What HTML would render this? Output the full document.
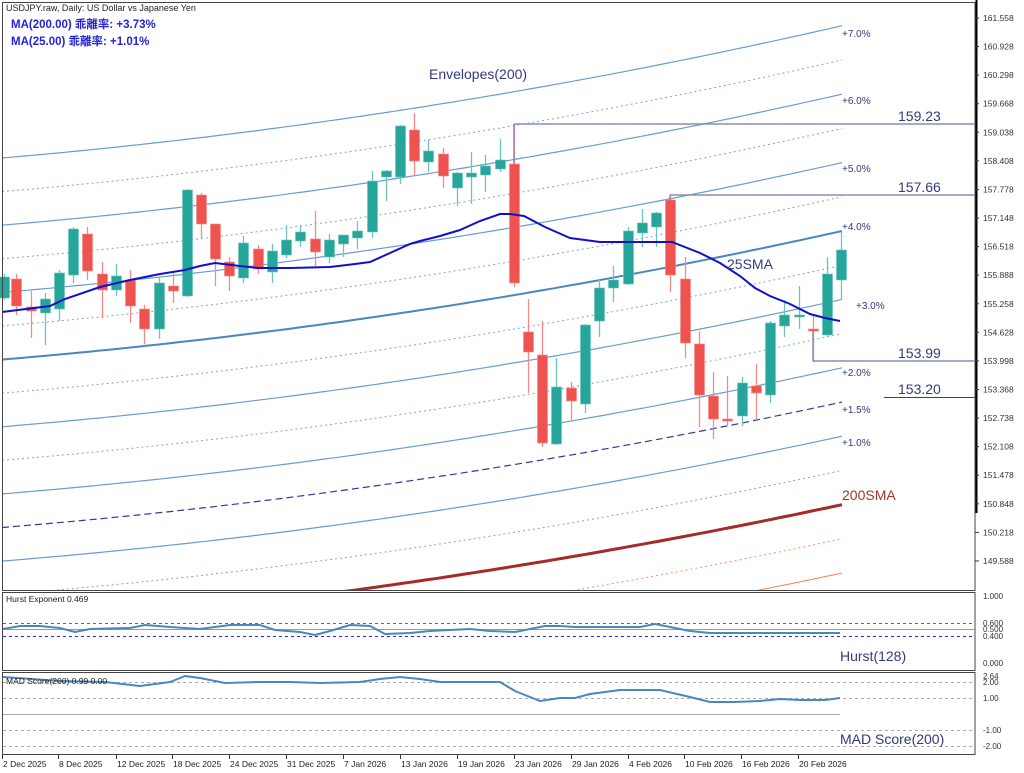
<!DOCTYPE html>
<html><head><meta charset="utf-8"><style>
html,body{margin:0;padding:0;background:#fff;}
svg{display:block;font-family:"Liberation Sans","Noto Sans CJK JP",sans-serif;}
</style></head><body>
<svg id="s" width="1024" height="773" viewBox="0 0 1024 773" xmlns="http://www.w3.org/2000/svg">
<defs><clipPath id="cm"><rect x="2" y="2" width="973" height="588"/></clipPath></defs>
<rect width="1024" height="773" fill="#fff"/>
<g id="bands" clip-path="url(#cm)"></g>
<g id="cand"></g>
<g id="over"></g>
<!-- borders -->
<rect x="2.5" y="2.5" width="972.5" height="588" fill="none" stroke="#444" stroke-width="1"/>
<rect x="2.5" y="592.5" width="972.5" height="78" fill="none" stroke="#444" stroke-width="1"/>
<rect x="2.5" y="672.5" width="972.5" height="82" fill="none" stroke="#444" stroke-width="1"/>
<line x1="976.5" y1="0" x2="976.5" y2="513" stroke="#000" stroke-width="2"/>
<g id="axis" font-size="8.5" fill="#333"></g>
<text x="6" y="11" font-size="9" fill="#222">USDJPY.raw, Daily:  US Dollar vs Japanese Yen</text>
<text x="11" y="28" font-size="11.5" font-weight="bold" fill="#2323d8">MA(200.00) 乖離率: +3.73%</text>
<text x="11" y="45" font-size="11.5" font-weight="bold" fill="#2323d8">MA(25.00) 乖離率: +1.01%</text>
<text x="429" y="79" font-size="14" fill="#33397f">Envelopes(200)</text>
<text x="727" y="269" font-size="14" fill="#33397f">25SMA</text>
<text x="842" y="500" font-size="14" fill="#a0352c">200SMA</text>
<g font-size="10" fill="#33397f">
<text x="842" y="37">+7.0%</text><text x="842" y="104">+6.0%</text><text x="842" y="172">+5.0%</text>
<text x="842" y="230">+4.0%</text><text x="856" y="309">+3.0%</text><text x="842" y="376">+2.0%</text>
<text x="842" y="413">+1.5%</text><text x="842" y="446">+1.0%</text>
</g>
<g stroke="#8a8db0" stroke-width="1.5">
<line x1="514" y1="124" x2="975" y2="124"/><line x1="514" y1="124" x2="514" y2="164"/>
<line x1="670" y1="195" x2="975" y2="195"/><line x1="670" y1="195" x2="670" y2="200"/>
<line x1="813" y1="361" x2="975" y2="361"/><line x1="813" y1="331" x2="813" y2="361"/>
</g>
<line x1="884" y1="397.5" x2="975" y2="397.5" stroke="#3a3f7a" stroke-width="1"/>
<g font-size="14" fill="#33397f">
<text x="898" y="121">159.23</text><text x="898" y="192">157.66</text>
<text x="898" y="358">153.99</text><text x="898" y="394">153.20</text>
</g>
<!-- Hurst -->
<text x="6" y="602" font-size="8.5" fill="#222">Hurst Exponent 0.469</text>
<line x1="3" y1="623.5" x2="975" y2="623.5" stroke="#e03040" stroke-dasharray="3,3"/>
<line x1="3" y1="629.5" x2="975" y2="629.5" stroke="#999"/>
<line x1="3" y1="636.5" x2="975" y2="636.5" stroke="#2030e0" stroke-dasharray="3,3"/>
<polyline fill="none" stroke="#4a86c0" stroke-width="2" points="3,629 20,626 40,626 60,628 75,632 90,629 130,628 145,625 170,627 200,629 230,625 260,625 275,630 300,632 315,635 330,631 350,625 370,626 385,634 410,633 430,631 470,629 490,631 515,632 530,629 545,626 560,626 575,627 640,627 655,624 670,627 690,631 710,633 760,633 840,633"/>
<text x="840" y="661" font-size="14" fill="#33397f">Hurst(128)</text>
<!-- MAD -->
<g stroke="#aaa" stroke-dasharray="3,3"><line x1="3" y1="682.5" x2="975" y2="682.5"/><line x1="3" y1="698.5" x2="975" y2="698.5"/><line x1="3" y1="730.5" x2="975" y2="730.5"/><line x1="3" y1="746.5" x2="975" y2="746.5"/></g>
<line x1="3" y1="714.5" x2="840" y2="714.5" stroke="#aaa"/>
<polyline fill="none" stroke="#4a86c0" stroke-width="2" points="3,677 60,681 105,682 140,686 170,682 185,676 200,678 225,683 260,682 290,682 320,683 360,682 380,679 400,677 420,679 440,682 500,682 515,691 540,701 560,698 575,698 590,694 620,690 660,690 690,697 710,702 735,702 760,701 780,699 800,700 825,700 840,698"/>
<text x="6" y="684" font-size="8.5" fill="#222">MAD Score(200) 0.99 0.00</text>
<text x="840" y="744" font-size="14" fill="#33397f">MAD Score(200)</text>
<!-- right small axis -->
<g font-size="8" fill="#333">
<text x="983" y="599">1.000</text><text x="983" y="626">0.600</text><text x="983" y="632">0.500</text><text x="983" y="639">0.400</text><text x="983" y="666">0.000</text>
<text x="983" y="679">2.64</text><text x="983" y="685">2.00</text><text x="983" y="701">1.00</text><text x="983" y="733">-1.00</text><text x="983" y="749">-2.00</text>
</g>
<g id="dates" font-size="8.5" fill="#222"></g>
<script>
var NS="http://www.w3.org/2000/svg";
function el(p,t,a){var e=document.createElementNS(NS,t);for(var k in a)e.setAttribute(k,a[k]);p.appendChild(e);return e;}
function Y(p){return 18+(161.558-p)*45.36;}
function P(x){return 148.1+0.001762*x+1.757e-6*x*x;}
var bands=document.getElementById('bands');
var specs=[[-1,'#ff7f50','',1],[-0.5,'#ff8c60','2,3',1],[0.5,'#7aa6d6','2,3',1],[1,'#6a9ccf','',1.2],[1.5,'#3636a0','7,4',1.2],[2,'#6a9ccf','',1.2],[2.5,'#7aa6d6','2,3',1],[3,'#6a9ccf','',1.2],[3.5,'#7aa6d6','2,3',1],[4,'#4a86c0','',2],[4.5,'#7aa6d6','2,3',1],[5,'#6a9ccf','',1.2],[5.5,'#7aa6d6','2,3',1],[6,'#6a9ccf','',1.2],[6.5,'#7aa6d6','2,3',1],[7,'#6a9ccf','',1.2],[0,'#a52a2a','',3]];
specs.forEach(function(s){var pts=[];for(var x=2;x<=842;x+=8){pts.push(x+','+Y(P(x)*(1+s[0]/100)).toFixed(1));}
var a={points:pts.join(' '),fill:'none',stroke:s[1],'stroke-width':s[3]};if(s[2])a['stroke-dasharray']=s[2];el(bands,'polyline',a);});
var c=[[4,'g',277,298,274,300],[16,'r',279,306,274,315],[31,'r',307,311,291,338],[45,'g',299,313,293,345],[59,'g',273,309,270,321],[73,'g',229,275,227,283],[87,'r',234,271,227,280],[102,'r',274,290,262,318],[116,'g',276,290,264,296],[130,'r',280,306,270,323],[144,'r',309,329,305,344],[159,'g',283,329,278,339],[173,'r',286,291,271,303],[187,'g',190,296,189,297],[201,'r',195,224,193,238],[215,'r',224,259,224,286],[229,'r',262,276,257,291],[243,'g',243,278,236,283],[258,'r',249,269,245,274],[272,'g',251,272,244,283],[286,'g',240,255,225,258],[300,'g',232,241,225,247],[315,'r',239,252,211,266],[329,'g',240,257,234,263],[343,'g',235,244,235,257],[357,'g',231,238,221,249],[372,'g',181,232,171,238],[386,'g',171,177,170,201],[400,'g',126,177,125,184],[414,'r',130,161,113,176],[428,'g',151,162,140,172],[443,'r',154,176,148,188],[457,'g',173,188,172,206],[471,'g',173,177,152,204],[485,'g',166,175,155,192],[500,'g',160,169,139,172],[514,'r',164,283,124,287],[528,'r',332,352,299,393],[542,'r',355,443,321,447],[556,'g',387,444,358,445],[571,'r',388,401,382,421],[585,'g',325,404,324,413],[599,'g',288,321,280,337],[613,'g',280,288,266,302],[628,'g',231,284,227,285],[642,'g',223,233,209,247],[656,'g',213,227,212,247],[670,'r',200,275,195,292],[685,'r',279,343,257,358],[699,'r',344,395,331,427],[713,'r',396,419,372,439],[727,'r',419,420,376,425],[742,'g',383,416,377,426],[756,'r',386,393,364,420],[770,'g',323,395,321,403],[784,'g',315,326,300,337],[799,'g',315,317,286,329],[813,'r',329,331,315,362],[827,'g',274,335,257,337],[841,'g',250,280,232,300]];
var cg=document.getElementById('cand');
var sma=[[2,312],[50,306],[65,299],[100,287],[130,280],[160,274],[185,270],[200,266],[215,263],[240,266],[258,268],[290,268],[330,267],[355,264],[370,262],[390,253],[410,244],[420,241],[440,236],[460,230],[480,221],[500,214],[510,214],[524,216],[545,227],[570,238],[600,242],[650,242],[672,242],[700,253],[720,263],[740,276],[755,288],[770,296],[790,304],[810,314],[825,318],[840,321]];
c.forEach(function(d){var col=d[1]=='g'?'#26a69a':'#ef5350';var wc=d[1]=='g'?'#6cc4bb':'#f48a88';
el(cg,'line',{x1:d[0]+.5,x2:d[0]+.5,y1:d[4],y2:d[5],stroke:wc,'stroke-width':1.3});
el(cg,'rect',{x:d[0]-4.5,y:d[2],width:10,height:Math.max(2,d[3]-d[2]),fill:col,stroke:wc,'stroke-width':0.6});});
el(document.getElementById('over'),'polyline',{points:sma.map(function(p){return p.join(',')}).join(' '),fill:'none',stroke:'#1010c8','stroke-width':2});
var ax=document.getElementById('axis');
for(var i=0;i<20;i++){var p=161.558-0.63*i;var y=Y(p);if(y>585)break;el(ax,'line',{x1:975,x2:979,y1:y,y2:y,stroke:'#333'});var t=el(ax,'text',{x:983,y:y+3});t.textContent=p.toFixed(3);}
var dl=[[2,'2 Dec 2025'],[58,'8 Dec 2025'],[116,'12 Dec 2025'],[172,'18 Dec 2025'],[229,'24 Dec 2025'],[286,'31 Dec 2025'],[343,'7 Jan 2026'],[400,'13 Jan 2026'],[457,'19 Jan 2026'],[514,'23 Jan 2026'],[571,'29 Jan 2026'],[628,'4 Feb 2026'],[684,'10 Feb 2026'],[741,'16 Feb 2026'],[798,'20 Feb 2026']];
var dg=document.getElementById('dates');
dl.forEach(function(d){el(dg,'line',{x1:d[0]+.5,x2:d[0]+.5,y1:755,y2:759,stroke:'#333'});var t=el(dg,'text',{x:d[0]+1,y:767});t.textContent=d[1];});
</script>
</svg>
</body></html>
